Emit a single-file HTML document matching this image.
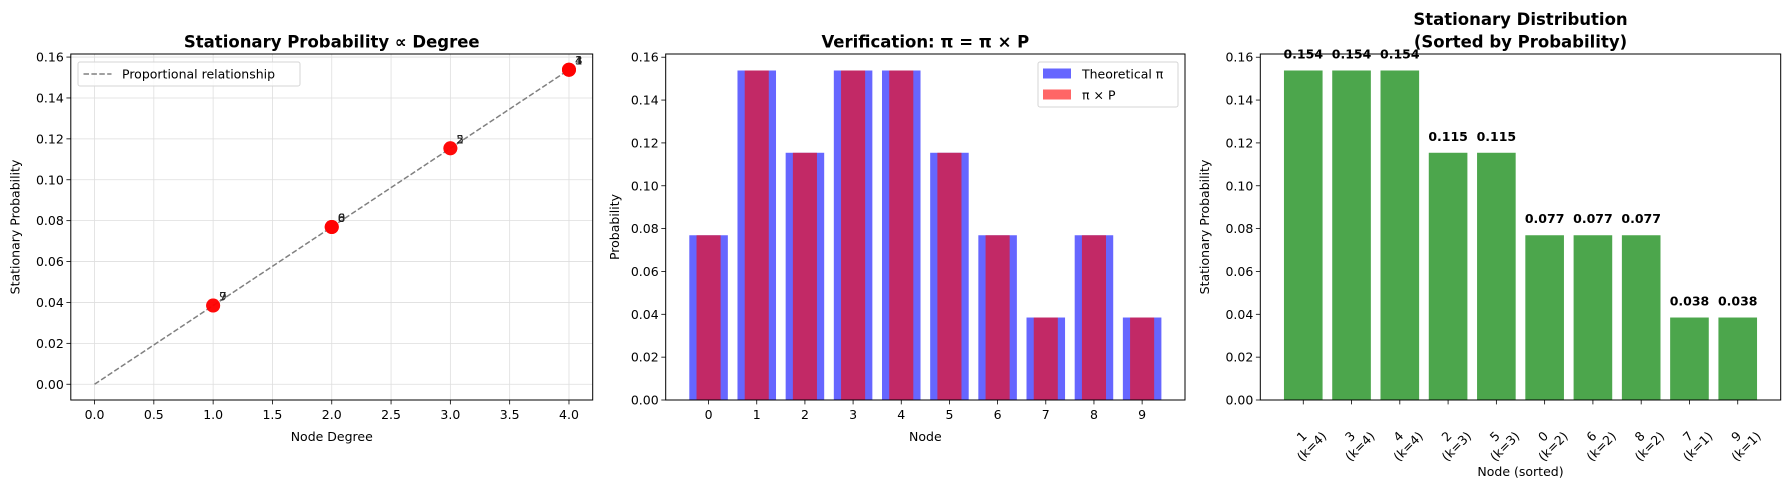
<!DOCTYPE html>
<html><head><meta charset="utf-8"><style>
html,body{margin:0;padding:0;background:#fff;}
svg{display:block;font-family:"DejaVu Sans","Liberation Sans",sans-serif;}
</style></head><body>
<svg id="fig" width="1790" height="489" xmlns="http://www.w3.org/2000/svg"></svg>
<script>
// ---- data ----
const nodes = [0,1,2,3,4,5,6,7,8,9];
const degrees = [2,4,3,4,4,3,2,1,2,1];
const piTheory = [0.0769,0.1538,0.1154,0.1538,0.1538,0.1154,0.0769,0.0385,0.0769,0.0385];
const piTimesP = [0.0769,0.1538,0.1154,0.1538,0.1538,0.1154,0.0769,0.0385,0.0769,0.0385];
const sortedNodes = [1,3,4,2,5,0,6,8,7,9];
const sortedDegrees = [4,4,4,3,3,2,2,2,1,1];
const sortedProbs = [0.1538,0.1538,0.1538,0.1154,0.1154,0.0769,0.0769,0.0769,0.0385,0.0385];
const sortedLabels = ["0.154","0.154","0.154","0.115","0.115","0.077","0.077","0.077","0.038","0.038"];
const yTicks = [0,0.02,0.04,0.06,0.08,0.10,0.12,0.14,0.16];
const yTickLabels = ["0.00","0.02","0.04","0.06","0.08","0.10","0.12","0.14","0.16"];
const xTicks1 = [0,0.5,1,1.5,2,2.5,3,3.5,4];
const xTickLabels1 = ["0.0","0.5","1.0","1.5","2.0","2.5","3.0","3.5","4.0"];

const NS = "http://www.w3.org/2000/svg";
const svg = document.getElementById('fig');
function el(tag, attrs, parent, text){
  const e = document.createElementNS(NS, tag);
  for (const k in attrs) e.setAttribute(k, attrs[k]);
  if (text !== undefined) e.textContent = text;
  (parent||svg).appendChild(e);
  return e;
}
const FS = 12.5;
function scale(d0,d1,r0,r1){ return v => r0 + (v-d0)/(d1-d0)*(r1-r0); }

function yAxis(g, L, T, B, R, ys, grid){
  yTicks.forEach((t,i)=>{
    const y = ys(t);
    if (grid){ const gl = el('line',{x1:L,x2:R,y1:y,y2:y,stroke:'#dedede','stroke-width':0.8},g);
        }
    el('line',{x1:L-4.4,x2:L,y1:y,y2:y,stroke:'#000','stroke-width':0.8},g);
    const tx = el('text',{x:L-7,y:y+4.5,'text-anchor':'end','font-size':FS},g,yTickLabels[i]);
     
  });
}
function frame(g,L,T,R,B){
  const f = el('rect',{x:L,y:T,width:R-L,height:B-T,fill:'none',stroke:'#000','stroke-width':1},g);
   
}

// ---- Panel 1 ----
(function(){
  const L=70.8,R=592.7,T=54,B=400;
  const g = el('g',{});
   
  const xs = scale(-0.2,4.2,L,R), ys = scale(-0.0077,0.1615,B,T);
  xTicks1.forEach((t,i)=>{
    const x = xs(t);
    el('line',{x1:x,x2:x,y1:T,y2:B,stroke:'#dedede','stroke-width':0.8},g);
    el('line',{x1:x,x2:x,y1:B,y2:B+4.4,stroke:'#000','stroke-width':0.8},g);
    const tx = el('text',{x:x,y:B+19,'text-anchor':'middle','font-size':FS},g,xTickLabels1[i]);
     
  });
  yAxis(g,L,T,B,R,ys,true);
  const maxDeg = Math.max(...degrees), total = degrees.reduce((a,b)=>a+b,0);
  const ln = el('line',{x1:xs(0),y1:ys(0),x2:xs(maxDeg),y2:ys(maxDeg/total),stroke:'#808080','stroke-width':1.5,'stroke-dasharray':'5.5,2.4'},g);
   
  nodes.forEach((n,i)=>{
    const c = el('circle',{cx:xs(degrees[i]),cy:ys(piTheory[i]),r:7,fill:'rgba(255,0,0,0.8)'},g);
     
  });
  nodes.forEach((n,i)=>{
    const t = el('text',{x:xs(degrees[i])+6,y:ys(piTheory[i])-5,'font-size':FS*0.95,fill:'#222'},g,String(n));
     
  });
  frame(g,L,T,R,B);
  const lg = el('g',{},g);
   
  el('rect',{x:78,y:62,width:222,height:24,rx:2,fill:'rgba(255,255,255,0.8)',stroke:'#d5d5d5'},lg);
  el('line',{x1:83.5,x2:111.5,y1:74,y2:74,stroke:'#808080','stroke-width':1.5,'stroke-dasharray':'5.5,2.4'},lg);
  el('text',{x:122,y:78.5,'font-size':FS},lg,'Proportional relationship');
  const tt = el('text',{x:(L+R)/2,y:47.5,'text-anchor':'middle','font-size':16.5,'font-weight':'bold'},g,'Stationary Probability ∝ Degree');
   
  const xl = el('text',{x:(L+R)/2,y:441,'text-anchor':'middle','font-size':FS},g,'Node Degree');
   
  const yl = el('text',{x:0,y:0,'text-anchor':'middle','font-size':FS,transform:`translate(19.5,${(T+B)/2}) rotate(-90)`},g,'Stationary Probability');
   
})();

// ---- Panel 2 ----
(function(){
  const L=665.7,R=1185,T=54,B=400;
  const g = el('g',{});
   
  const xs = scale(-0.89,9.89,L,R), ys = scale(0,0.1615,B,T);
  const u = xs(1)-xs(0);
  nodes.forEach((n,i)=>{
    const b = el('rect',{x:xs(n)-0.4*u,y:ys(piTheory[i]),width:0.8*u,height:ys(0)-ys(piTheory[i]),fill:'rgba(0,0,255,0.6)'},g);
     
  });
  nodes.forEach((n,i)=>{
    const b = el('rect',{x:xs(n)-0.25*u,y:ys(piTimesP[i]),width:0.5*u,height:ys(0)-ys(piTimesP[i]),fill:'rgba(255,0,0,0.6)'},g);
     
  });
  nodes.forEach((n)=>{
    const x = xs(n);
    el('line',{x1:x,x2:x,y1:B,y2:B+4.4,stroke:'#000','stroke-width':0.8},g);
    const tx = el('text',{x:x,y:B+19,'text-anchor':'middle','font-size':FS},g,String(n));
     
  });
  yAxis(g,L,T,B,R,ys,false);
  frame(g,L,T,R,B);
  const lg = el('g',{},g);
   
  el('rect',{x:1038,y:62,width:140,height:45,rx:2,fill:'rgba(255,255,255,0.8)',stroke:'#d5d5d5'},lg);
  el('rect',{x:1043,y:68.5,width:28,height:10,fill:'rgba(0,0,255,0.6)'},lg);
  el('text',{x:1082,y:78.5,'font-size':FS},lg,'Theoretical π');
  el('rect',{x:1043,y:89.5,width:28,height:10,fill:'rgba(255,0,0,0.6)'},lg);
  el('text',{x:1082,y:99.5,'font-size':FS},lg,'π × P');
  const tt = el('text',{x:(L+R)/2,y:47.5,'text-anchor':'middle','font-size':16.5,'font-weight':'bold'},g,'Verification: π = π × P');
   
  const xl = el('text',{x:(L+R)/2,y:441,'text-anchor':'middle','font-size':FS},g,'Node');
   
  const yl = el('text',{x:0,y:0,'text-anchor':'middle','font-size':FS,transform:`translate(619,${(T+B)/2}) rotate(-90)`},g,'Probability');
   
})();

// ---- Panel 3 ----
(function(){
  const L=1260.3,R=1780.7,T=54,B=400;
  const g = el('g',{});
   
  const xs = scale(-0.89,9.89,L,R), ys = scale(0,0.1615,B,T);
  const u = xs(1)-xs(0);
  sortedProbs.forEach((p,i)=>{
    const b = el('rect',{x:xs(i)-0.4*u,y:ys(p),width:0.8*u,height:ys(0)-ys(p),fill:'rgb(76,166,76)'},g);
     
    const t = el('text',{x:xs(i),y:ys(p)-12,'text-anchor':'middle','font-size':FS,'font-weight':'bold'},g,sortedLabels[i]);
     
  });
  sortedNodes.forEach((n,i)=>{
    const x = xs(i);
    el('line',{x1:x,x2:x,y1:B,y2:B+4.4,stroke:'#000','stroke-width':0.8},g);
    const tg = el('g',{transform:`translate(${x+3},441) rotate(-45)`},g);
     
    el('text',{x:0,y:-2,'text-anchor':'middle','font-size':FS},tg,String(n));
    el('text',{x:0,y:12,'text-anchor':'middle','font-size':FS},tg,'(k='+sortedDegrees[i]+')');
  });
  yAxis(g,L,T,B,R,ys,false);
  frame(g,L,T,R,B);
  const t1 = el('text',{x:(L+R)/2,y:25,'text-anchor':'middle','font-size':16.5,'font-weight':'bold'},g,'Stationary Distribution');
   
  const t2 = el('text',{x:(L+R)/2,y:47.5,'text-anchor':'middle','font-size':16.5,'font-weight':'bold'},g,'(Sorted by Probability)');
   
  const xl = el('text',{x:(L+R)/2,y:476,'text-anchor':'middle','font-size':FS},g,'Node (sorted)');
   
  const yl = el('text',{x:0,y:0,'text-anchor':'middle','font-size':FS,transform:`translate(1209,${(T+B)/2}) rotate(-90)`},g,'Stationary Probability');
   
})();
</script>
</body></html>
